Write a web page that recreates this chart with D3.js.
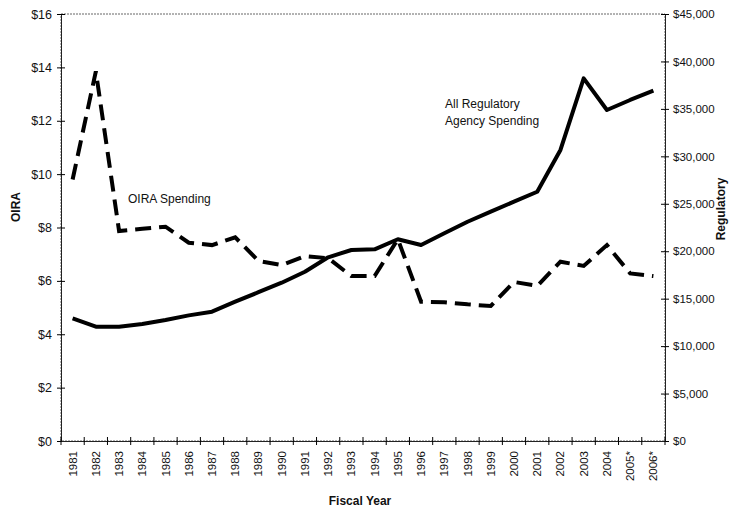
<!DOCTYPE html>
<html>
<head>
<meta charset="utf-8">
<script src="https://cdn.jsdelivr.net/npm/d3@7"></script>
<style>
  body { margin: 0; background: #fff; }
  text { font-family: "Liberation Sans", Arial, sans-serif; fill: #111; }
</style>
</head>
<body>
<script>
// fiscal years (2005, 2006 are estimates)
const years = ["1981","1982","1983","1984","1985","1986","1987","1988","1989","1990",
  "1991","1992","1993","1994","1995","1996","1997","1998","1999","2000",
  "2001","2002","2003","2004","2005*","2006*"];
// OIRA spending, $ millions (left axis)
const oira = [9.8,13.85,7.87,7.95,8.03,7.43,7.34,7.63,6.75,6.59,
  6.93,6.85,6.18,6.18,7.56,5.22,5.2,5.12,5.06,5.96,
  5.81,6.72,6.56,7.34,6.28,6.18];
// all regulatory agency spending, $ millions (right axis)
const regulatory = [12930,12050,12050,12330,12750,13240,13630,14680,15680,16680,
  17840,19360,20130,20200,21260,20660,21890,23110,24170,25220,
  26270,30670,38220,34880,35940,36920];
const leftTicks = [0,2,4,6,8,10,12,14,16];
const rightTicks = [0,5000,10000,15000,20000,25000,30000,35000,40000,45000];

function main(){
    const width = 741, height = 511;
    const margin = {top: 14, right: 76, bottom: 70, left: 61};

    const svg = d3.select('body').append('svg')
        .attr('width', width)
        .attr('height', height);

    const x = d3.scaleBand()
        .domain(years)
        .range([margin.left, width - margin.right]);

    const yL = d3.scaleLinear() // OIRA
        .domain([0, 16])
        .range([height - margin.bottom, margin.top]);

    const yR = d3.scaleLinear() // regulatory
        .domain([0, 45000])
        .range([height - margin.bottom, margin.top]);

    // plot frame
    svg.append('rect')
        .attr('x', margin.left)
        .attr('y', margin.top)
        .attr('width', width - margin.left - margin.right)
        .attr('height', height - margin.top - margin.bottom)
        .attr('fill', 'none')
        .attr('stroke', '#666')
        .attr('stroke-width', 1)
        .attr('stroke-dasharray', '2,1');

    // left axis
    const gL = svg.append('g')
        .attr('transform', `translate(${margin.left},0)`)
        .call(d3.axisLeft(yL).tickValues(leftTicks).tickSize(4).tickPadding(5)
            .tickFormat(d => '$' + d));
    gL.selectAll('.tick line').attr('x1', -4).attr('x2', 4);

    // right axis
    const gR = svg.append('g')
        .attr('transform', `translate(${width - margin.right},0)`)
        .call(d3.axisRight(yR).tickValues(rightTicks).tickSize(4).tickPadding(4)
            .tickFormat(d3.format('$,')));
    gR.selectAll('.tick line').attr('x1', -4).attr('x2', 4);

    // x axis, labels at band centres, ticks at band edges
    const gX = svg.append('g')
        .attr('transform', `translate(0,${height - margin.bottom})`)
        .call(d3.axisBottom(x).tickSize(0).tickPadding(0));
    gX.selectAll('.tick text')
        .attr('transform', 'rotate(-90)')
        .attr('text-anchor', 'end')
        .attr('x', -10)
        .attr('y', 0)
        .attr('dy', '0.35em');
    gX.selectAll('.edge')
        .data(years.concat(['end']))
        .enter().append('line')
        .attr('x1', (d, i) => margin.left + i * x.step())
        .attr('x2', (d, i) => margin.left + i * x.step())
        .attr('y1', -4).attr('y2', 4)
        .attr('stroke', '#000');

    [gL, gR, gX].forEach(g => {
        g.select('.domain').attr('stroke', '#222');
        g.selectAll('text')
            .attr('font-family', '"Liberation Sans", Arial, sans-serif')
            .attr('fill', '#111');
    });
    gL.selectAll('text').attr('font-size', '12.5px');
    gR.selectAll('text').attr('font-size', '11.5px');
    gX.selectAll('text').attr('font-size', '11.5px');

    const cx = d => x(d) + x.bandwidth() / 2;

    // regulatory line (solid)
    svg.append('path')
        .datum(years.map((d, i) => [cx(d), yR(regulatory[i])]))
        .attr('fill', 'none')
        .attr('stroke', '#000')
        .attr('stroke-width', 4)
        .attr('stroke-linejoin', 'round')
        .attr('d', d3.line());

    // OIRA line (dashed)
    svg.append('path')
        .datum(years.map((d, i) => [cx(d), yL(oira[i])]))
        .attr('fill', 'none')
        .attr('stroke', '#000')
        .attr('stroke-width', 4)
        .attr('stroke-dasharray', '16,8')
        .attr('d', d3.line());

    // annotations
    svg.append('text').attr('x', 128).attr('y', 203)
        .attr('font-size', '12px').text('OIRA Spending');
    svg.append('text').attr('x', 445).attr('y', 108)
        .attr('font-size', '12px').text('All Regulatory');
    svg.append('text').attr('x', 445).attr('y', 125)
        .attr('font-size', '12px').text('Agency Spending');

    // axis titles
    svg.append('text')
        .attr('transform', 'translate(20,207) rotate(-90)')
        .attr('text-anchor', 'middle')
        .attr('font-size', '12px').attr('font-weight', 'bold')
        .text('OIRA');
    svg.append('text')
        .attr('transform', 'translate(725,209) rotate(-90)')
        .attr('text-anchor', 'middle')
        .attr('font-size', '12px').attr('font-weight', 'bold')
        .text('Regulatory');
    svg.append('text')
        .attr('x', 360).attr('y', 505)
        .attr('text-anchor', 'middle')
        .attr('font-size', '12px').attr('font-weight', 'bold')
        .text('Fiscal Year');
}
main();
</script>
</body>
</html>
